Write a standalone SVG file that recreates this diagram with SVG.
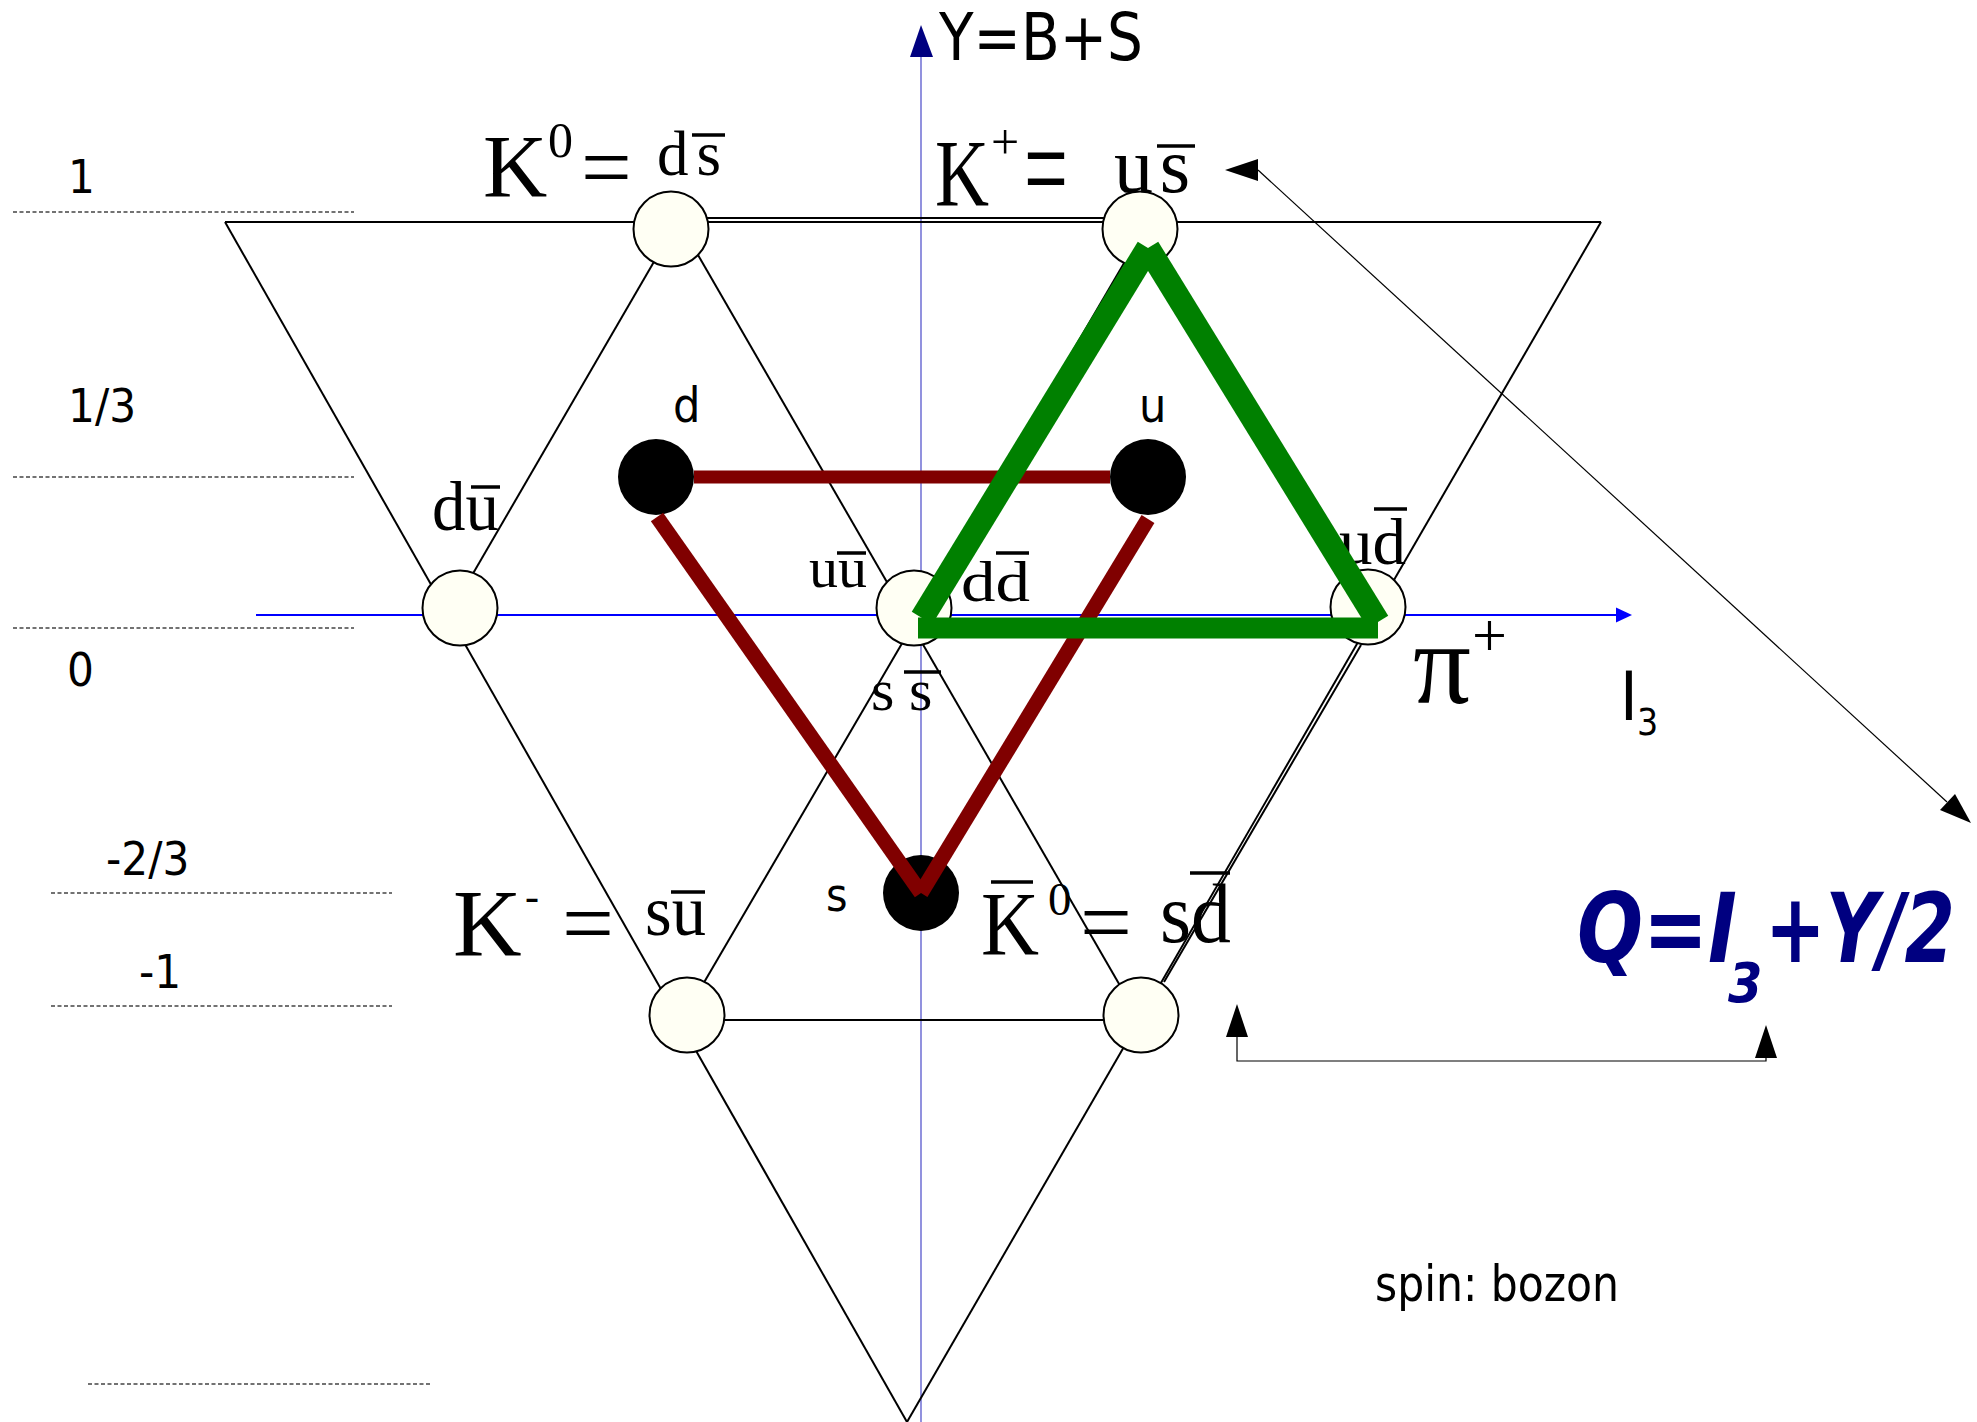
<svg xmlns="http://www.w3.org/2000/svg" width="1977" height="1422" viewBox="0 0 1977 1422">
<style>
.dot{stroke:#444;stroke-width:1.3;stroke-dasharray:4 2.5;fill:none}
.ln{stroke:#000;stroke-width:2;fill:none}
.thin{stroke:#000;stroke-width:1.2;fill:none}
.meson{fill:#fffff4;stroke:#000;stroke-width:2}
.quark{fill:#000}
.serif{font-family:"Liberation Serif","Times New Roman",serif;fill:#000}
.sans{font-family:"DejaVu Sans Condensed","DejaVu Sans",sans-serif;font-stretch:condensed;fill:#000}
.bar{stroke:#000;stroke-width:3.5}
.red{stroke:#800000;fill:none}
.green{stroke:#008000;fill:none}
.formula{font-family:"DejaVu Sans Condensed","DejaVu Sans",sans-serif;font-weight:bold;font-style:italic;fill:#000080}
</style>

<g id="levels">
<line class="dot" x1="13" y1="212" x2="354" y2="212"/>
<line class="dot" x1="13" y1="477" x2="354" y2="477"/>
<line class="dot" x1="13" y1="628" x2="354" y2="628"/>
<line class="dot" x1="51" y1="893" x2="392" y2="893"/>
<line class="dot" x1="51" y1="1006" x2="392" y2="1006"/>
<line class="dot" x1="88" y1="1384" x2="430" y2="1384"/>
<text class="sans" x="68" y="193" font-size="47">1</text>
<text class="sans" x="68" y="422" font-size="47">1/3</text>
<text class="sans" x="67" y="686" font-size="47">0</text>
<text class="sans" x="106" y="875" font-size="47">-2/3</text>
<text class="sans" x="139" y="988" font-size="47">-1</text>
</g>

<g id="axes">
<line x1="921" y1="57" x2="921" y2="1422" stroke="#4848c8" stroke-width="1.2"/>
<polygon points="921,25 910,57 933,57" fill="#000080"/>
<text class="sans" x="939" y="60" font-size="66" textLength="204" lengthAdjust="spacingAndGlyphs">Y=B+S</text>
<line x1="256" y1="615" x2="1617" y2="615" stroke="#0000ff" stroke-width="2.2"/>
<polygon points="1632,615 1616,607.5 1616,622.5" fill="#0000ff"/>
<text class="sans" x="1620" y="720" font-size="67">I</text>
<text class="sans" x="1637" y="735" font-size="37">3</text>
</g>

<g id="connectors">
<line class="ln" x1="225" y1="222" x2="1601" y2="222"/>
<line class="ln" x1="671" y1="218" x2="1140" y2="218"/>
<line class="ln" x1="225" y1="222" x2="907" y2="1422"/>
<line class="ln" x1="1601" y1="222" x2="907" y2="1422"/>
<line class="ln" x1="1361" y1="645" x2="1164" y2="982"/>
<line class="ln" x1="673" y1="229" x2="453" y2="608"/>
<line class="ln" x1="683" y1="229" x2="1137" y2="1015"/>
<line class="ln" x1="1144" y1="229" x2="685" y2="1015"/>
<line class="ln" x1="687" y1="1020" x2="1141" y2="1020"/>
<line class="thin" x1="1258" y1="170" x2="1947" y2="802"/>
<polygon points="1225,170 1258,159 1258,181" fill="#000"/>
<polygon points="1971,823 1940,810 1955,794" fill="#000"/>
<polyline class="thin" stroke-width="1.6" points="1237,1036 1237,1061 1766,1061 1766,1057"/>
<polygon points="1237,1004 1226,1037 1248,1037" fill="#000"/>
<polygon points="1766,1025 1755,1058 1777,1058" fill="#000"/>
</g>

<g id="node-K0">
<circle class="meson" cx="671" cy="229" r="37.5"/>
<text class="serif" x="483" y="196" font-size="89">K</text>
<text class="serif" x="548" y="157" font-size="50">0</text>
<text class="serif" x="581" y="198" font-size="90">=</text>
<text class="serif" x="657" y="175" font-size="63" textLength="64" lengthAdjust="spacing">ds</text>
<line class="bar" x1="692" y1="135" x2="725" y2="135"/>
</g>

<g id="node-Kplus">
<circle class="meson" cx="1140" cy="229" r="37.5"/>
<text class="serif" x="935" y="206" font-size="96" textLength="54" lengthAdjust="spacingAndGlyphs">K</text>
<text class="serif" x="991" y="159" font-size="50">+</text>
<text class="serif" x="1024" y="212" font-size="130" textLength="44" lengthAdjust="spacingAndGlyphs">=</text>
<text class="serif" x="1114" y="192" font-size="78" textLength="76" lengthAdjust="spacing">us</text>
<line class="bar" x1="1157" y1="146" x2="1195" y2="146"/>
</g>

<g id="node-piminus">
<circle class="meson" cx="460" cy="608" r="37.5"/>
<text class="serif" x="432" y="530" font-size="69" textLength="67" lengthAdjust="spacingAndGlyphs">du</text>
<line class="bar" x1="471" y1="487" x2="500" y2="487"/>
</g>

<g id="node-center">
<circle class="meson" cx="914" cy="608" r="37.5"/>
<text class="serif" x="809" y="587" font-size="58" textLength="58" lengthAdjust="spacingAndGlyphs">uu</text>
<line class="bar" x1="837" y1="553" x2="866" y2="553"/>
<text class="serif" x="961" y="601" font-size="56" textLength="69" lengthAdjust="spacingAndGlyphs">dd</text>
<line class="bar" x1="996" y1="553" x2="1029" y2="553"/>
<text class="serif" x="871 909" y="710" font-size="60">ss</text>
<line class="bar" x1="904" y1="672" x2="941" y2="672"/>
</g>

<g id="node-piplus">
<circle class="meson" cx="1368" cy="607" r="37.5"/>
<text class="serif" x="1339" y="564" font-size="66" textLength="67" lengthAdjust="spacingAndGlyphs">ud</text>
<line class="bar" x1="1374" y1="509" x2="1407" y2="509"/>
<text class="serif" x="1413" y="703" font-size="116" textLength="58" lengthAdjust="spacingAndGlyphs">π</text>
<text class="serif" x="1472" y="656" font-size="62">+</text>
</g>

<g id="node-Kminus">
<circle class="meson" cx="687" cy="1015" r="37.5"/>
<text class="serif" x="453" y="956" font-size="95">K</text>
<text class="serif" x="525" y="910" font-size="42">-</text>
<text class="serif" x="562" y="954" font-size="92" textLength="52" lengthAdjust="spacingAndGlyphs">=</text>
<text class="serif" x="645" y="935" font-size="71" textLength="61" lengthAdjust="spacingAndGlyphs">su</text>
<line class="bar" x1="671" y1="892" x2="705" y2="892"/>
</g>

<g id="node-K0bar">
<circle class="meson" cx="1141" cy="1015" r="37.5"/>
<text class="serif" x="981" y="955" font-size="90" textLength="58" lengthAdjust="spacingAndGlyphs">K</text>
<line class="bar" x1="991" y1="882" x2="1033" y2="882"/>
<text class="serif" x="1048" y="915" font-size="47">0</text>
<text class="serif" x="1080" y="953" font-size="92" textLength="52" lengthAdjust="spacingAndGlyphs">=</text>
<text class="serif" x="1160" y="942" font-size="84" textLength="71" lengthAdjust="spacingAndGlyphs">sd</text>
<line class="bar" x1="1190" y1="873" x2="1230" y2="873"/>
</g>

<g id="quark-d">
<circle class="quark" cx="656" cy="477" r="38"/>
<text class="sans" x="673" y="422" font-size="48">d</text>
</g>
<g id="quark-u">
<circle class="quark" cx="1148" cy="477" r="38"/>
<text class="sans" x="1139" y="422" font-size="48">u</text>
</g>
<g id="quark-s">
<circle class="quark" cx="921" cy="893" r="38"/>
<text class="sans" x="826" y="911" font-size="46">s</text>
</g>

<g id="quark-triangle">
<line class="red" stroke-width="13" x1="694" y1="477" x2="1110" y2="477"/>
<line class="red" stroke-width="15" x1="657" y1="517" x2="921" y2="893"/>
<line class="red" stroke-width="15" x1="1148" y1="519" x2="921" y2="893"/>
</g>

<g id="antiquark-triangle">
<line class="green" stroke-width="24" x1="1148" y1="248" x2="922" y2="618"/>
<line class="green" stroke-width="24" x1="1148" y1="248" x2="1378" y2="622"/>
<line class="green" stroke-width="21" x1="918" y1="628" x2="1378" y2="628"/>
</g>

<g id="formula">
<text class="formula" x="1577" y="962" font-size="96" textLength="160" lengthAdjust="spacingAndGlyphs">Q=I</text>
<text class="formula" x="1728" y="1002" font-size="55">3</text>
<text class="formula" x="1765" y="962" font-size="96" textLength="190" lengthAdjust="spacingAndGlyphs">+Y/2</text>
</g>

<text class="sans" x="1375" y="1301" font-size="50" textLength="244" lengthAdjust="spacingAndGlyphs">spin: bozon</text>
</svg>
